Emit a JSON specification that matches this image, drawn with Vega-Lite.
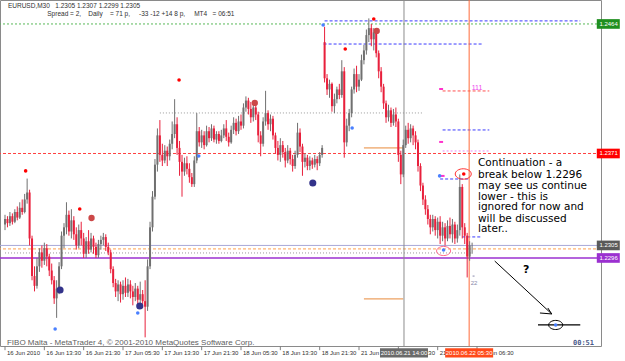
{
"$schema":"https://vega.github.io/schema/vega-lite/v6.json",
"width":601,"height":346,
"autosize":{"type":"none"},
"padding":{"left":0,"top":0,"right":24,"bottom":15},
"background":"#ffffff",
"config":{"view":{"stroke":"#8a8a8a","strokeWidth":1},"font":"Liberation Sans"},
"datasets":{
"bars":[
{"i":0,"o":1.2320,"h":1.2327,"l":1.2316,"c":1.2324},{"i":1,"o":1.2324,"h":1.2326,"l":1.2318,"c":1.2321},{"i":2,"o":1.2321,"h":1.2329,"l":1.2319,"c":1.2326},{"i":3,"o":1.2326,"h":1.2328,"l":1.2320,"c":1.2322},{"i":4,"o":1.2322,"h":1.2331,"l":1.2321,"c":1.2329},{"i":5,"o":1.2329,"h":1.2333,"l":1.2323,"c":1.2325},{"i":6,"o":1.2325,"h":1.2336,"l":1.2324,"c":1.2332},{"i":7,"o":1.2332,"h":1.2338,"l":1.2327,"c":1.2329},{"i":8,"o":1.2329,"h":1.2342,"l":1.2328,"c":1.2338},{"i":9,"o":1.2338,"h":1.2353,"l":1.2335,"c":1.2343},
{"i":10,"o":1.2343,"h":1.2345,"l":1.2305,"c":1.2310},{"i":11,"o":1.2310,"h":1.2312,"l":1.2280,"c":1.2283},{"i":12,"o":1.2283,"h":1.2290,"l":1.2272,"c":1.2276},{"i":13,"o":1.2276,"h":1.2296,"l":1.2274,"c":1.2290},{"i":14,"o":1.2290,"h":1.2303,"l":1.2286,"c":1.2300},{"i":15,"o":1.2300,"h":1.2305,"l":1.2289,"c":1.2294},{"i":16,"o":1.2294,"h":1.2307,"l":1.2291,"c":1.2303},{"i":17,"o":1.2303,"h":1.2306,"l":1.2290,"c":1.2297},{"i":18,"o":1.2297,"h":1.2299,"l":1.2283,"c":1.2287},{"i":19,"o":1.2287,"h":1.2292,"l":1.2277,"c":1.2280},
{"i":20,"o":1.2280,"h":1.2283,"l":1.2263,"c":1.2267},{"i":21,"o":1.2267,"h":1.2280,"l":1.2253,"c":1.2274},{"i":22,"o":1.2274,"h":1.2293,"l":1.2270,"c":1.2290},{"i":23,"o":1.2290,"h":1.2315,"l":1.2288,"c":1.2312},{"i":24,"o":1.2312,"h":1.2321,"l":1.2303,"c":1.2318},{"i":25,"o":1.2318,"h":1.2336,"l":1.2313,"c":1.2327},{"i":26,"o":1.2327,"h":1.2330,"l":1.2312,"c":1.2315},{"i":27,"o":1.2315,"h":1.2331,"l":1.2310,"c":1.2323},{"i":28,"o":1.2323,"h":1.2326,"l":1.2309,"c":1.2313},{"i":29,"o":1.2313,"h":1.2318,"l":1.2302,"c":1.2305},
{"i":30,"o":1.2305,"h":1.2320,"l":1.2303,"c":1.2316},{"i":31,"o":1.2316,"h":1.2322,"l":1.2305,"c":1.2310},{"i":32,"o":1.2310,"h":1.2314,"l":1.2296,"c":1.2299},{"i":33,"o":1.2299,"h":1.2311,"l":1.2296,"c":1.2308},{"i":34,"o":1.2308,"h":1.2316,"l":1.2299,"c":1.2302},{"i":35,"o":1.2302,"h":1.2314,"l":1.2300,"c":1.2310},{"i":36,"o":1.2310,"h":1.2312,"l":1.2299,"c":1.2304},{"i":37,"o":1.2304,"h":1.2307,"l":1.2296,"c":1.2298},{"i":38,"o":1.2298,"h":1.2309,"l":1.2296,"c":1.2306},{"i":39,"o":1.2306,"h":1.2312,"l":1.2302,"c":1.2309},
{"i":40,"o":1.2309,"h":1.2314,"l":1.2305,"c":1.2311},{"i":41,"o":1.2311,"h":1.2313,"l":1.2301,"c":1.2304},{"i":42,"o":1.2304,"h":1.2307,"l":1.2298,"c":1.2300},{"i":43,"o":1.2300,"h":1.2302,"l":1.2285,"c":1.2288},{"i":44,"o":1.2288,"h":1.2290,"l":1.2275,"c":1.2278},{"i":45,"o":1.2278,"h":1.2281,"l":1.2268,"c":1.2272},{"i":46,"o":1.2272,"h":1.2280,"l":1.2265,"c":1.2277},{"i":47,"o":1.2277,"h":1.2279,"l":1.2264,"c":1.2270},{"i":48,"o":1.2270,"h":1.2280,"l":1.2266,"c":1.2276},{"i":49,"o":1.2276,"h":1.2282,"l":1.2268,"c":1.2271},
{"i":50,"o":1.2271,"h":1.2281,"l":1.2268,"c":1.2277},{"i":51,"o":1.2277,"h":1.2280,"l":1.2267,"c":1.2272},{"i":52,"o":1.2272,"h":1.2276,"l":1.2262,"c":1.2268},{"i":53,"o":1.2268,"h":1.2278,"l":1.2265,"c":1.2274},{"i":54,"o":1.2274,"h":1.2276,"l":1.2261,"c":1.2266},{"i":55,"o":1.2266,"h":1.2279,"l":1.2262,"c":1.2270},{"i":56,"o":1.2270,"h":1.2273,"l":1.2260,"c":1.2265},{"i":57,"o":1.2265,"h":1.2280,"l":1.2239,"c":1.2261},{"i":58,"o":1.2261,"h":1.2295,"l":1.2258,"c":1.2290},{"i":59,"o":1.2290,"h":1.2322,"l":1.2288,"c":1.2318},
{"i":60,"o":1.2318,"h":1.2344,"l":1.2315,"c":1.2340},{"i":61,"o":1.2340,"h":1.2367,"l":1.2338,"c":1.2363},{"i":62,"o":1.2363,"h":1.2389,"l":1.2358,"c":1.2384},{"i":63,"o":1.2384,"h":1.2395,"l":1.2365,"c":1.2370},{"i":64,"o":1.2370,"h":1.2378,"l":1.2362,"c":1.2366},{"i":65,"o":1.2366,"h":1.2377,"l":1.2364,"c":1.2373},{"i":66,"o":1.2373,"h":1.2376,"l":1.2362,"c":1.2369},{"i":67,"o":1.2369,"h":1.2381,"l":1.2366,"c":1.2378},{"i":68,"o":1.2378,"h":1.2394,"l":1.2374,"c":1.2385},{"i":69,"o":1.2385,"h":1.2410,"l":1.2382,"c":1.2392},
{"i":70,"o":1.2392,"h":1.2397,"l":1.2370,"c":1.2375},{"i":71,"o":1.2375,"h":1.2380,"l":1.2355,"c":1.2365},{"i":72,"o":1.2365,"h":1.2370,"l":1.2340,"c":1.2358},{"i":73,"o":1.2358,"h":1.2368,"l":1.2355,"c":1.2364},{"i":74,"o":1.2364,"h":1.2369,"l":1.2356,"c":1.2360},{"i":75,"o":1.2360,"h":1.2364,"l":1.2350,"c":1.2354},{"i":76,"o":1.2354,"h":1.2357,"l":1.2347,"c":1.2349},{"i":77,"o":1.2349,"h":1.2369,"l":1.2347,"c":1.2366},{"i":78,"o":1.2366,"h":1.2400,"l":1.2364,"c":1.2387},{"i":79,"o":1.2387,"h":1.2390,"l":1.2376,"c":1.2379},
{"i":80,"o":1.2379,"h":1.2388,"l":1.2375,"c":1.2384},{"i":81,"o":1.2384,"h":1.2387,"l":1.2374,"c":1.2377},{"i":82,"o":1.2377,"h":1.2391,"l":1.2376,"c":1.2387},{"i":83,"o":1.2387,"h":1.2390,"l":1.2379,"c":1.2382},{"i":84,"o":1.2382,"h":1.2392,"l":1.2380,"c":1.2389},{"i":85,"o":1.2389,"h":1.2391,"l":1.2379,"c":1.2381},{"i":86,"o":1.2381,"h":1.2387,"l":1.2378,"c":1.2385},{"i":87,"o":1.2385,"h":1.2387,"l":1.2378,"c":1.2380},{"i":88,"o":1.2380,"h":1.2388,"l":1.2379,"c":1.2384},{"i":89,"o":1.2384,"h":1.2392,"l":1.2382,"c":1.2389},
{"i":90,"o":1.2389,"h":1.2395,"l":1.2380,"c":1.2383},{"i":91,"o":1.2383,"h":1.2386,"l":1.2376,"c":1.2379},{"i":92,"o":1.2379,"h":1.2391,"l":1.2378,"c":1.2388},{"i":93,"o":1.2388,"h":1.2397,"l":1.2385,"c":1.2393},{"i":94,"o":1.2393,"h":1.2396,"l":1.2384,"c":1.2387},{"i":95,"o":1.2387,"h":1.2398,"l":1.2385,"c":1.2394},{"i":96,"o":1.2394,"h":1.2399,"l":1.2388,"c":1.2391},{"i":97,"o":1.2391,"h":1.2407,"l":1.2389,"c":1.2404},{"i":98,"o":1.2404,"h":1.2412,"l":1.2401,"c":1.2409},{"i":99,"o":1.2409,"h":1.2411,"l":1.2399,"c":1.2403},
{"i":100,"o":1.2403,"h":1.2408,"l":1.2393,"c":1.2397},{"i":101,"o":1.2397,"h":1.2407,"l":1.2394,"c":1.2404},{"i":102,"o":1.2404,"h":1.2406,"l":1.2395,"c":1.2399},{"i":103,"o":1.2399,"h":1.2401,"l":1.2379,"c":1.2384},{"i":104,"o":1.2384,"h":1.2387,"l":1.2369,"c":1.2378},{"i":105,"o":1.2378,"h":1.2397,"l":1.2376,"c":1.2394},{"i":106,"o":1.2394,"h":1.2416,"l":1.2391,"c":1.2400},{"i":107,"o":1.2400,"h":1.2402,"l":1.2388,"c":1.2392},{"i":108,"o":1.2392,"h":1.2399,"l":1.2387,"c":1.2396},{"i":109,"o":1.2396,"h":1.2398,"l":1.2381,"c":1.2384},
{"i":110,"o":1.2384,"h":1.2386,"l":1.2371,"c":1.2375},{"i":111,"o":1.2375,"h":1.2380,"l":1.2366,"c":1.2370},{"i":112,"o":1.2370,"h":1.2382,"l":1.2365,"c":1.2377},{"i":113,"o":1.2377,"h":1.2380,"l":1.2368,"c":1.2372},{"i":114,"o":1.2372,"h":1.2375,"l":1.2361,"c":1.2366},{"i":115,"o":1.2366,"h":1.2377,"l":1.2364,"c":1.2373},{"i":116,"o":1.2373,"h":1.2375,"l":1.2363,"c":1.2367},{"i":117,"o":1.2367,"h":1.2370,"l":1.2358,"c":1.2362},{"i":118,"o":1.2362,"h":1.2373,"l":1.2360,"c":1.2370},{"i":119,"o":1.2370,"h":1.2393,"l":1.2368,"c":1.2386},
{"i":120,"o":1.2386,"h":1.2389,"l":1.2372,"c":1.2376},{"i":121,"o":1.2376,"h":1.2378,"l":1.2355,"c":1.2365},{"i":122,"o":1.2365,"h":1.2371,"l":1.2361,"c":1.2368},{"i":123,"o":1.2368,"h":1.2370,"l":1.2359,"c":1.2362},{"i":124,"o":1.2362,"h":1.2369,"l":1.2359,"c":1.2366},{"i":125,"o":1.2366,"h":1.2368,"l":1.2360,"c":1.2363},{"i":126,"o":1.2363,"h":1.2370,"l":1.2361,"c":1.2367},{"i":127,"o":1.2367,"h":1.2369,"l":1.2359,"c":1.2364},{"i":128,"o":1.2364,"h":1.2372,"l":1.2362,"c":1.2370},{"i":129,"o":1.2370,"h":1.2377,"l":1.2368,"c":1.2375},
{"i":130,"o":1.2451,"h":1.2462,"l":1.2422,"c":1.2425},{"i":131,"o":1.2425,"h":1.2428,"l":1.2413,"c":1.2417},{"i":132,"o":1.2417,"h":1.2424,"l":1.2411,"c":1.2421},{"i":133,"o":1.2421,"h":1.2422,"l":1.2401,"c":1.2405},{"i":134,"o":1.2405,"h":1.2414,"l":1.2400,"c":1.2410},{"i":135,"o":1.2410,"h":1.2419,"l":1.2407,"c":1.2417},{"i":136,"o":1.2417,"h":1.2421,"l":1.2410,"c":1.2413},{"i":137,"o":1.2413,"h":1.2438,"l":1.2411,"c":1.2430},{"i":138,"o":1.2430,"h":1.2433,"l":1.2368,"c":1.2379},{"i":139,"o":1.2379,"h":1.2396,"l":1.2376,"c":1.2391},
{"i":140,"o":1.2391,"h":1.2403,"l":1.2387,"c":1.2400},{"i":141,"o":1.2400,"h":1.2419,"l":1.2397,"c":1.2417},{"i":142,"o":1.2417,"h":1.2432,"l":1.2414,"c":1.2428},{"i":143,"o":1.2428,"h":1.2434,"l":1.2415,"c":1.2419},{"i":144,"o":1.2419,"h":1.2428,"l":1.2416,"c":1.2424},{"i":145,"o":1.2424,"h":1.2442,"l":1.2423,"c":1.2438},{"i":146,"o":1.2438,"h":1.2449,"l":1.2435,"c":1.2445},{"i":147,"o":1.2445,"h":1.2460,"l":1.2442,"c":1.2456},{"i":148,"o":1.2456,"h":1.2468,"l":1.2451,"c":1.2461},{"i":149,"o":1.2461,"h":1.2464,"l":1.2448,"c":1.2453},
{"i":150,"o":1.2453,"h":1.2461,"l":1.2445,"c":1.2458},{"i":151,"o":1.2458,"h":1.2460,"l":1.2440,"c":1.2443},{"i":152,"o":1.2443,"h":1.2445,"l":1.2425,"c":1.2430},{"i":153,"o":1.2430,"h":1.2433,"l":1.2415,"c":1.2419},{"i":154,"o":1.2419,"h":1.2421,"l":1.2403,"c":1.2407},{"i":155,"o":1.2407,"h":1.2409,"l":1.2393,"c":1.2397},{"i":156,"o":1.2397,"h":1.2406,"l":1.2394,"c":1.2402},{"i":157,"o":1.2402,"h":1.2404,"l":1.2390,"c":1.2393},{"i":158,"o":1.2393,"h":1.2403,"l":1.2391,"c":1.2399},{"i":159,"o":1.2399,"h":1.2404,"l":1.2390,"c":1.2394},
{"i":160,"o":1.2394,"h":1.2396,"l":1.2365,"c":1.2370},{"i":161,"o":1.2370,"h":1.2373,"l":1.2349,"c":1.2356},{"i":162,"o":1.2356,"h":1.2381,"l":1.2354,"c":1.2377},{"i":163,"o":1.2377,"h":1.2391,"l":1.2375,"c":1.2388},{"i":164,"o":1.2388,"h":1.2393,"l":1.2378,"c":1.2382},{"i":165,"o":1.2382,"h":1.2392,"l":1.2379,"c":1.2389},{"i":166,"o":1.2389,"h":1.2391,"l":1.2377,"c":1.2384},{"i":167,"o":1.2384,"h":1.2387,"l":1.2374,"c":1.2379},{"i":168,"o":1.2379,"h":1.2381,"l":1.2358,"c":1.2362},{"i":169,"o":1.2362,"h":1.2364,"l":1.2344,"c":1.2348},
{"i":170,"o":1.2348,"h":1.2350,"l":1.2334,"c":1.2338},{"i":171,"o":1.2338,"h":1.2341,"l":1.2327,"c":1.2331},{"i":172,"o":1.2331,"h":1.2334,"l":1.2320,"c":1.2324},{"i":173,"o":1.2324,"h":1.2327,"l":1.2313,"c":1.2318},{"i":174,"o":1.2318,"h":1.2327,"l":1.2315,"c":1.2324},{"i":175,"o":1.2324,"h":1.2326,"l":1.2312,"c":1.2316},{"i":176,"o":1.2316,"h":1.2325,"l":1.2310,"c":1.2322},{"i":177,"o":1.2322,"h":1.2326,"l":1.2306,"c":1.2312},{"i":178,"o":1.2312,"h":1.2322,"l":1.2308,"c":1.2318},{"i":179,"o":1.2318,"h":1.2321,"l":1.2305,"c":1.2310},
{"i":180,"o":1.2310,"h":1.2323,"l":1.2308,"c":1.2319},{"i":181,"o":1.2319,"h":1.2325,"l":1.2310,"c":1.2313},{"i":182,"o":1.2313,"h":1.2324,"l":1.2307,"c":1.2320},{"i":183,"o":1.2320,"h":1.2322,"l":1.2306,"c":1.2310},{"i":184,"o":1.2310,"h":1.2320,"l":1.2307,"c":1.2316},{"i":185,"o":1.2316,"h":1.2356,"l":1.2312,"c":1.2347},{"i":186,"o":1.2347,"h":1.2349,"l":1.2310,"c":1.2318},{"i":187,"o":1.2318,"h":1.2321,"l":1.2306,"c":1.2312},{"i":188,"o":1.2312,"h":1.2314,"l":1.2282,"c":1.2297},{"i":189,"o":1.2297,"h":1.2308,"l":1.2294,"c":1.2305},
{"i":190,"o":1.2305,"h":1.2307,"l":1.2299,"c":1.2305}
],
"levels":[{"k":"green","p":1.2464},{"k":"red","p":1.2371},{"k":"bid","p":1.2305},{"k":"orange","p":1.23025},{"k":"purple","p":1.2296}],
"segs":[
{"k":"blue","i":130,"i2":234,"p":1.24662},{"k":"blue","i":129.6,"i2":194,"p":1.24496},{"k":"blue","i":178,"i2":197,"p":1.23879},{"k":"blue","i":177,"i2":189,"p":1.23527},{"k":"blue","i":186,"i2":194,"p":1.23111},
{"k":"gray","i":63,"i2":170,"p":1.24001},{"k":"gray","i":0,"i2":190,"p":1.22996},
{"k":"orange","i":146,"i2":162,"p":1.2375},{"k":"orange","i":146,"i2":162,"p":1.22666},
{"k":"red","i":178,"i2":197,"p":1.24159},{"k":"pink","i":178,"i2":197,"p":1.23728},
{"k":"black","i":216.8,"i2":234,"p":1.22479},
{"k":"magenta","i":176.6,"i2":178.2,"p":1.24173},{"k":"magenta","i":176.6,"i2":178.2,"p":1.23793},{"k":"magenta","i":177.2,"i2":178.8,"p":1.23549},
{"k":"gtick","i":190.2,"i2":191,"p":1.2283}
],
"vlines":[{"k":"gray","i":162.3},{"k":"orange","i":188.8}],
"dots":[
{"k":"rs","i":8.4,"p":1.23585},{"k":"rs","i":30.4,"p":1.23312},{"k":"rs","i":70.8,"p":1.24238},{"k":"rs","i":138.4,"p":1.2446},{"k":"rs","i":150,"p":1.24676},{"k":"rs","i":186.6,"p":1.23563},
{"k":"rb","i":35.2,"p":1.23247},{"k":"rb","i":101.6,"p":1.24073},{"k":"rb","i":151.2,"p":1.2459},
{"k":"bs","i":20.4,"p":1.2245},{"k":"bs","i":54,"p":1.22565},{"k":"bs","i":78.8,"p":1.23692},{"k":"bs","i":141.2,"p":1.23893},{"k":"bs","i":129.4,"p":1.24633},{"k":"bs","i":176.8,"p":1.23549},{"k":"bs","i":178.4,"p":1.23017},{"k":"bs","i":224,"p":1.22479},
{"k":"bb","i":22.4,"p":1.2273},{"k":"bb","i":54.8,"p":1.22615},{"k":"bb","i":125.2,"p":1.23498}
],
"ovals":[{"k":"red","i":186.4,"p":1.23563},{"k":"pink","i":178.4,"p":1.2301},{"k":"black","i":224,"p":1.22479}],
"arrow":[{"i":199.2,"p":1.22938,"i2":222.4,"p2":1.22558},{"i":217.6,"p":1.22565,"i2":222.4,"p2":1.22558},{"i":220.8,"p":1.22601,"i2":222.4,"p2":1.22558}],
"texts":[
{"k":"note","t":"Continuation - a","i":192.4,"p":1.23642},
{"k":"note","t":"break below 1.2296","i":192.4,"p":1.23559},
{"k":"note","t":"may see us continue","i":192.4,"p":1.2348},
{"k":"note","t":"lower - this is","i":192.4,"p":1.23398},
{"k":"note","t":"ignored for now and","i":192.4,"p":1.23323},
{"k":"note","t":"will be discussed","i":192.4,"p":1.23243},
{"k":"note","t":"later..","i":192.4,"p":1.23165},
{"k":"hdr","t":"EURUSD,M30\u00a0\u00a0\u00a01.2305 1.2307 1.2299 1.2305","i":1.2,"p":1.24769},
{"k":"hdr","t":"Spread = 2,\u00a0\u00a0\u00a0\u00a0Daily\u00a0\u00a0\u00a0\u00a0= 71 p,\u00a0\u00a0\u00a0\u00a0\u00a0-33 -12 +14 8 p,\u00a0\u00a0\u00a0\u00a0\u00a0MT4\u00a0\u00a0\u00a0= 06:51","i":17.2,"p":1.24712},
{"k":"copy","t":"FIBO Malta - MetaTrader 4, © 2001-2010 MetaQuotes Software Corp.","i":0.8,"p":1.2235},
{"k":"clock","t":"00:51","i":239.6,"p":1.2235},
{"k":"mag","t":"111","i":192,"p":1.24181},
{"k":"small","t":"22","i":190.8,"p":1.2278},
{"k":"q","t":"?","i":212,"p":1.22874}
],
"tlabels":[{"t":"16 Jun 2010","i":0},{"t":"16 Jun 13:30","i":16},{"t":"16 Jun 21:30","i":32},{"t":"17 Jun 05:30","i":48},{"t":"17 Jun 13:30","i":64},{"t":"17 Jun 21:30","i":80},{"t":"18 Jun 05:30","i":96},{"t":"18 Jun 13:30","i":112},{"t":"18 Jun 21:30","i":128},{"t":"21 Jun 06:30","i":144},{"t":"21 Jun 14:30","i":160},{"t":"21 Jun 22:30","i":176},{"t":"22 Jun 06:30","i":192}],
"ybox":[{"k":"green","t":"1.2464","p":1.2464},{"k":"red","t":"1.2371","p":1.2371},{"k":"gray","t":"1.2305","p":1.2305},{"k":"purple","t":"1.2296","p":1.2296}],
"xbox":[{"k":"gray","t":"2010.06.21 14:00","i":162.3,"p":1.22279},{"k":"orange","t":"2010.06.22 05:30","i":188.8,"p":1.22279}]
},
"layer":[
{"data":{"name":"segs"},"transform":[{"filter":"datum.k=='gray'"}],"mark":{"type":"rule","color":"#9a9a9a","strokeDash":[1,2],"strokeWidth":1},
 "encoding":{
  "x":{"field":"i","type":"quantitative","scale":{"domain":[0,240.4],"nice":false,"zero":false},"axis":null},
  "x2":{"field":"i2"},
  "y":{"field":"p","type":"quantitative","scale":{"domain":[1.22328,1.24812],"nice":false,"zero":false},
   "axis":{"orient":"right","values":[1.2479,1.246,1.2445,1.243,1.2415,1.24,1.2385,1.237,1.2355,1.234,1.2325,1.231,1.2295,1.228,1.2265,1.225,1.2235],"format":".4f","labelFontSize":6,"labelColor":"#404040","labelFont":"Liberation Sans","labelPadding":2,"tickSize":3,"tickColor":"#808080","domain":true,"domainColor":"#8a8a8a","grid":false,"title":null,"labelOverlap":false,"labelFlush":false,"labelBound":false}}
 }},
{"data":{"name":"levels"},"transform":[{"filter":"datum.k=='green'"}],"mark":{"type":"rule","color":"#58b858","strokeDash":[2,2],"strokeWidth":1},"encoding":{"y":{"field":"p","type":"quantitative","axis":null}}},
{"data":{"name":"levels"},"transform":[{"filter":"datum.k=='red'"}],"mark":{"type":"rule","color":"#ff4040","strokeDash":[3,2],"strokeWidth":1},"encoding":{"y":{"field":"p","type":"quantitative","axis":null}}},
{"data":{"name":"levels"},"transform":[{"filter":"datum.k=='bid'"}],"mark":{"type":"rule","color":"#a8a8d8","strokeWidth":1},"encoding":{"y":{"field":"p","type":"quantitative","axis":null}}},
{"data":{"name":"levels"},"transform":[{"filter":"datum.k=='orange'"}],"mark":{"type":"rule","color":"#ffa050","strokeDash":[3,2],"strokeWidth":1},"encoding":{"y":{"field":"p","type":"quantitative","axis":null}}},
{"data":{"name":"levels"},"transform":[{"filter":"datum.k=='purple'"}],"mark":{"type":"rule","color":"#9b30d0","strokeWidth":1.5},"encoding":{"y":{"field":"p","type":"quantitative","axis":null}}},
{"data":{"name":"segs"},"transform":[{"filter":"datum.k=='blue'"}],"mark":{"type":"rule","color":"#3a3aff","strokeDash":[3,2],"strokeWidth":1},"encoding":{"x":{"field":"i","type":"quantitative","axis":null},"x2":{"field":"i2"},"y":{"field":"p","type":"quantitative","axis":null}}},
{"data":{"name":"segs"},"transform":[{"filter":"datum.k=='orange'"}],"mark":{"type":"rule","color":"#e8893a","strokeWidth":1},"encoding":{"x":{"field":"i","type":"quantitative","axis":null},"x2":{"field":"i2"},"y":{"field":"p","type":"quantitative","axis":null}}},
{"data":{"name":"segs"},"transform":[{"filter":"datum.k=='red'"}],"mark":{"type":"rule","color":"#ff5050","strokeDash":[3,2],"strokeWidth":1},"encoding":{"x":{"field":"i","type":"quantitative","axis":null},"x2":{"field":"i2"},"y":{"field":"p","type":"quantitative","axis":null}}},
{"data":{"name":"segs"},"transform":[{"filter":"datum.k=='pink'"}],"mark":{"type":"rule","color":"#ee88ee","strokeDash":[2,2],"strokeWidth":1},"encoding":{"x":{"field":"i","type":"quantitative","axis":null},"x2":{"field":"i2"},"y":{"field":"p","type":"quantitative","axis":null}}},
{"data":{"name":"segs"},"transform":[{"filter":"datum.k=='black'"}],"mark":{"type":"rule","color":"#000000","strokeWidth":1.3},"encoding":{"x":{"field":"i","type":"quantitative","axis":null},"x2":{"field":"i2"},"y":{"field":"p","type":"quantitative","axis":null}}},
{"data":{"name":"segs"},"transform":[{"filter":"datum.k=='magenta'"}],"mark":{"type":"rule","color":"#ff33cc","strokeWidth":2},"encoding":{"x":{"field":"i","type":"quantitative","axis":null},"x2":{"field":"i2"},"y":{"field":"p","type":"quantitative","axis":null}}},
{"data":{"name":"segs"},"transform":[{"filter":"datum.k=='gtick'"}],"mark":{"type":"rule","color":"#8888aa","strokeWidth":1},"encoding":{"x":{"field":"i","type":"quantitative","axis":null},"x2":{"field":"i2"},"y":{"field":"p","type":"quantitative","axis":null}}},
{"data":{"name":"vlines"},"transform":[{"filter":"datum.k=='gray'"}],"mark":{"type":"rule","color":"#8c8c8c","strokeWidth":1},"encoding":{"x":{"field":"i","type":"quantitative","axis":null}}},
{"data":{"name":"vlines"},"transform":[{"filter":"datum.k=='orange'"}],"mark":{"type":"rule","color":"#ff6a3a","strokeWidth":1},"encoding":{"x":{"field":"i","type":"quantitative","axis":null}}},
{"data":{"name":"bars"},"mark":{"type":"rule","strokeWidth":1},"encoding":{"x":{"field":"i","type":"quantitative","axis":null},"y":{"field":"l","type":"quantitative","axis":null},"y2":{"field":"h"},"color":{"condition":{"test":"datum.c>=datum.o","value":"#707070"},"value":"#e8203c"}}},
{"data":{"name":"bars"},"mark":{"type":"bar","width":2},"encoding":{"x":{"field":"i","type":"quantitative","axis":null},"y":{"field":"o","type":"quantitative","axis":null},"y2":{"field":"c"},"color":{"condition":{"test":"datum.c>=datum.o","value":"#707070"},"value":"#e8203c"}}},
{"data":{"name":"dots"},"transform":[{"filter":"datum.k=='rs'"}],"mark":{"type":"point","filled":true,"size":13,"color":"#ff0000","opacity":1},"encoding":{"x":{"field":"i","type":"quantitative","axis":null},"y":{"field":"p","type":"quantitative","axis":null}}},
{"data":{"name":"dots"},"transform":[{"filter":"datum.k=='rb'"}],"mark":{"type":"point","filled":true,"size":40,"color":"#cc4848","opacity":1},"encoding":{"x":{"field":"i","type":"quantitative","axis":null},"y":{"field":"p","type":"quantitative","axis":null}}},
{"data":{"name":"dots"},"transform":[{"filter":"datum.k=='bs'"}],"mark":{"type":"point","filled":true,"size":13,"color":"#4a80ff","opacity":1},"encoding":{"x":{"field":"i","type":"quantitative","axis":null},"y":{"field":"p","type":"quantitative","axis":null}}},
{"data":{"name":"dots"},"transform":[{"filter":"datum.k=='bb'"}],"mark":{"type":"point","filled":true,"size":50,"color":"#33338a","opacity":1},"encoding":{"x":{"field":"i","type":"quantitative","axis":null},"y":{"field":"p","type":"quantitative","axis":null}}},
{"data":{"name":"ovals"},"transform":[{"filter":"datum.k=='red'"}],"mark":{"type":"point","shape":"M-1,0A1,0.65,0,1,1,1,0A1,0.65,0,1,1,-1,0Z","size":256,"filled":false,"color":"#ff3030","strokeWidth":1,"opacity":1},"encoding":{"x":{"field":"i","type":"quantitative","axis":null},"y":{"field":"p","type":"quantitative","axis":null}}},
{"data":{"name":"ovals"},"transform":[{"filter":"datum.k=='pink'"}],"mark":{"type":"point","shape":"M-1,0A1,0.65,0,1,1,1,0A1,0.65,0,1,1,-1,0Z","size":196,"filled":false,"color":"#ff6688","strokeWidth":1,"opacity":1},"encoding":{"x":{"field":"i","type":"quantitative","axis":null},"y":{"field":"p","type":"quantitative","axis":null}}},
{"data":{"name":"ovals"},"transform":[{"filter":"datum.k=='black'"}],"mark":{"type":"point","shape":"M-1,0A1,0.65,0,1,1,1,0A1,0.65,0,1,1,-1,0Z","size":196,"filled":false,"color":"#000000","strokeWidth":1,"opacity":1},"encoding":{"x":{"field":"i","type":"quantitative","axis":null},"y":{"field":"p","type":"quantitative","axis":null}}},
{"data":{"name":"arrow"},"mark":{"type":"rule","color":"#000000","strokeWidth":1},"encoding":{"x":{"field":"i","type":"quantitative","axis":null},"y":{"field":"p","type":"quantitative","axis":null},"x2":{"field":"i2"},"y2":{"field":"p2"}}},
{"data":{"name":"texts"},"transform":[{"filter":"datum.k=='note'"}],"mark":{"type":"text","align":"left","baseline":"middle","font":"DejaVu Sans","fontSize":10.5,"color":"#000000"},"encoding":{"x":{"field":"i","type":"quantitative","axis":null},"y":{"field":"p","type":"quantitative","axis":null},"text":{"field":"t"}}},
{"data":{"name":"texts"},"transform":[{"filter":"datum.k=='hdr'"}],"mark":{"type":"text","align":"left","baseline":"middle","font":"Liberation Sans","fontSize":6.5,"color":"#303030"},"encoding":{"x":{"field":"i","type":"quantitative","axis":null},"y":{"field":"p","type":"quantitative","axis":null},"text":{"field":"t"}}},
{"data":{"name":"texts"},"transform":[{"filter":"datum.k=='copy'"}],"mark":{"type":"text","align":"left","baseline":"middle","font":"Liberation Sans","fontSize":8,"color":"#606060"},"encoding":{"x":{"field":"i","type":"quantitative","axis":null},"y":{"field":"p","type":"quantitative","axis":null},"text":{"field":"t"}}},
{"data":{"name":"texts"},"transform":[{"filter":"datum.k=='clock'"}],"mark":{"type":"text","align":"right","baseline":"middle","font":"DejaVu Sans Mono","fontSize":7,"fontWeight":"bold","color":"#4a5a8a"},"encoding":{"x":{"field":"i","type":"quantitative","axis":null},"y":{"field":"p","type":"quantitative","axis":null},"text":{"field":"t"}}},
{"data":{"name":"texts"},"transform":[{"filter":"datum.k=='mag'"}],"mark":{"type":"text","align":"center","baseline":"middle","font":"Liberation Sans","fontSize":7,"color":"#ee44ee"},"encoding":{"x":{"field":"i","type":"quantitative","axis":null},"y":{"field":"p","type":"quantitative","axis":null},"text":{"field":"t"}}},
{"data":{"name":"texts"},"transform":[{"filter":"datum.k=='small'"}],"mark":{"type":"text","align":"center","baseline":"middle","font":"Liberation Sans","fontSize":6,"color":"#8888aa"},"encoding":{"x":{"field":"i","type":"quantitative","axis":null},"y":{"field":"p","type":"quantitative","axis":null},"text":{"field":"t"}}},
{"data":{"name":"texts"},"transform":[{"filter":"datum.k=='q'"}],"mark":{"type":"text","align":"center","baseline":"middle","font":"DejaVu Sans","fontSize":11,"fontWeight":"bold","color":"#000000"},"encoding":{"x":{"field":"i","type":"quantitative","axis":null},"y":{"field":"p","type":"quantitative","axis":null},"text":{"field":"t"}}},
{"data":{"name":"tlabels"},"mark":{"type":"rule","color":"#808080","strokeWidth":1},"encoding":{"x":{"field":"i","type":"quantitative","axis":null},"y":{"datum":1.22328,"type":"quantitative","axis":null},"y2":{"datum":1.22298}}},
{"data":{"name":"tlabels"},"mark":{"type":"text","align":"left","baseline":"middle","dx":2,"font":"Liberation Sans","fontSize":6,"color":"#303030"},"encoding":{"x":{"field":"i","type":"quantitative","axis":null},"y":{"datum":1.22279,"type":"quantitative","axis":null},"text":{"field":"t"}}},
{"data":{"name":"ybox"},"transform":[{"filter":"datum.k=='green'"}],"mark":{"type":"point","shape":"M-1,-0.42H1V0.42H-1Z","size":529,"filled":true,"color":"#1f8f1f","opacity":1},"encoding":{"x":{"datum":245.4,"type":"quantitative","axis":null},"y":{"field":"p","type":"quantitative","axis":null}}},
{"data":{"name":"ybox"},"transform":[{"filter":"datum.k=='red'"}],"mark":{"type":"point","shape":"M-1,-0.42H1V0.42H-1Z","size":529,"filled":true,"color":"#ff0000","opacity":1},"encoding":{"x":{"datum":245.4,"type":"quantitative","axis":null},"y":{"field":"p","type":"quantitative","axis":null}}},
{"data":{"name":"ybox"},"transform":[{"filter":"datum.k=='gray'"}],"mark":{"type":"point","shape":"M-1,-0.42H1V0.42H-1Z","size":529,"filled":true,"color":"#5a5a5a","opacity":1},"encoding":{"x":{"datum":245.4,"type":"quantitative","axis":null},"y":{"field":"p","type":"quantitative","axis":null}}},
{"data":{"name":"ybox"},"transform":[{"filter":"datum.k=='purple'"}],"mark":{"type":"point","shape":"M-1,-0.42H1V0.42H-1Z","size":529,"filled":true,"color":"#9b30d0","opacity":1},"encoding":{"x":{"datum":245.4,"type":"quantitative","axis":null},"y":{"field":"p","type":"quantitative","axis":null}}},
{"data":{"name":"ybox"},"mark":{"type":"text","align":"left","baseline":"middle","font":"Liberation Sans","fontSize":6,"color":"#ffffff"},"encoding":{"x":{"datum":241.8,"type":"quantitative","axis":null},"y":{"field":"p","type":"quantitative","axis":null},"text":{"field":"t"}}},
{"data":{"name":"xbox"},"transform":[{"filter":"datum.k=='gray'"}],"mark":{"type":"point","shape":"M-1,-0.19H1V0.19H-1Z","size":2304,"filled":true,"color":"#6a6a6a","opacity":1},"encoding":{"x":{"field":"i","type":"quantitative","axis":null},"y":{"field":"p","type":"quantitative","axis":null}}},
{"data":{"name":"xbox"},"transform":[{"filter":"datum.k=='orange'"}],"mark":{"type":"point","shape":"M-1,-0.19H1V0.19H-1Z","size":2304,"filled":true,"color":"#ff4a1a","opacity":1},"encoding":{"x":{"field":"i","type":"quantitative","axis":null},"y":{"field":"p","type":"quantitative","axis":null}}},
{"data":{"name":"xbox"},"mark":{"type":"text","align":"center","baseline":"middle","font":"Liberation Sans","fontSize":6,"color":"#ffffff"},"encoding":{"x":{"field":"i","type":"quantitative","axis":null},"y":{"field":"p","type":"quantitative","axis":null},"text":{"field":"t"}}}
]
}
